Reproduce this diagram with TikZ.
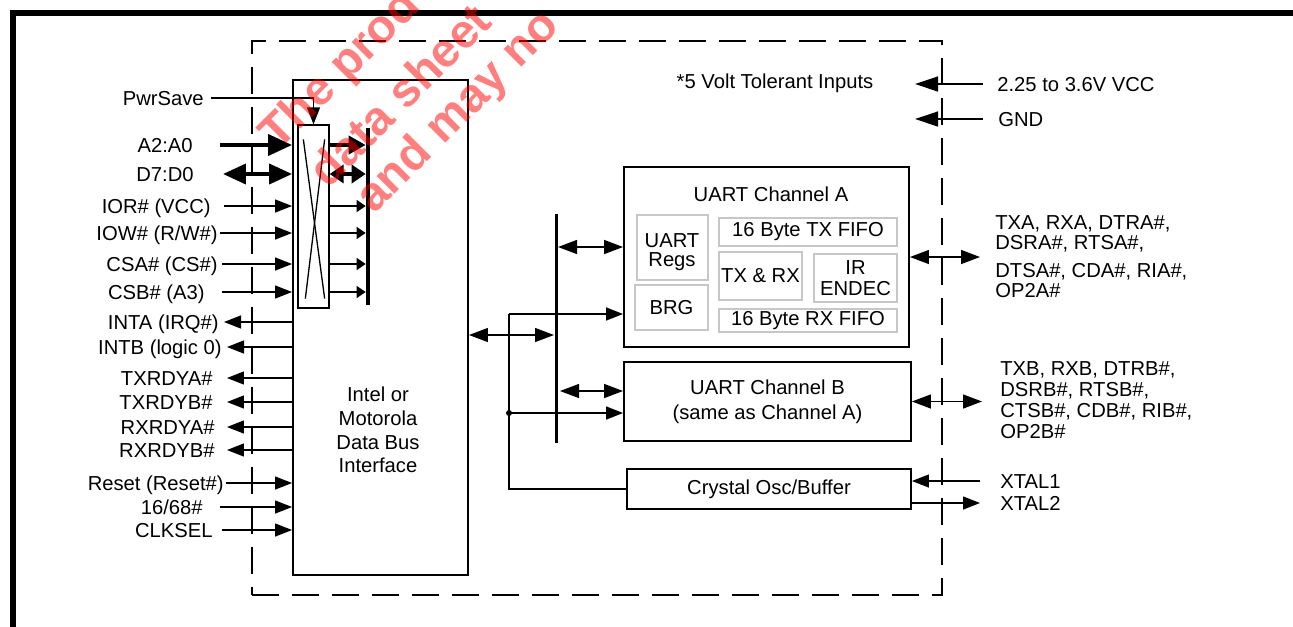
\documentclass[tikz,border=0pt]{standalone}
\usepackage{fontspec}
\setmainfont{Liberation Sans}
\usetikzlibrary{arrows.meta, calc}
\newcommand{\dfont}{\fontsize{11.5}{12}\selectfont}
\tikzset{
  wire/.style={line width=0.75pt},
  sigarrow/.style={wire, -{Triangle[length=0.34cm, width=0.26cm]}},
  sigboth/.style={wire, {Triangle[length=0.38cm, width=0.28cm]}-{Triangle[length=0.38cm, width=0.28cm]}},
  stubarrow/.style={wire, -{Triangle[length=0.18cm, width=0.24cm]}},
  pwrarrow/.style={wire, -{Triangle[length=0.46cm, width=0.30cm]}},
  busarrow/.style={line width=2.2pt, -{Triangle[length=0.48cm, width=0.42cm]}},
  busboth/.style={line width=2.2pt, {Triangle[length=0.46cm, width=0.40cm]}-{Triangle[length=0.46cm, width=0.40cm]}},
  stubbus/.style={line width=2.2pt, -{Triangle[length=0.34cm, width=0.36cm]}},
  stubbusboth/.style={line width=2.2pt, {Triangle[length=0.28cm, width=0.36cm]}-{Triangle[length=0.28cm, width=0.36cm]}},
  chipbox/.style={rectangle, draw, wire, dash pattern=on 0.54cm off 0.26cm, inner sep=0pt},
  blockbox/.style={rectangle, draw, line width=1.1pt, inner sep=0pt, font=\dfont, align=center},
  subbox/.style={rectangle, draw=black!22, line width=1.1pt, inner sep=0pt, font=\dfont, align=center},
  muxbox/.style={rectangle, draw, wire, inner sep=0pt},
  busbar/.style={rectangle, fill=black, inner sep=0pt},
  lbl/.style={font=\dfont, inner sep=0pt},
  sigtext/.style={lbl, text height=8.9pt, text depth=0.7pt},
  wmark/.style={font=\fontsize{27}{27}\selectfont\bfseries, text=red, text opacity=0.5,
    inner sep=0pt, anchor=base west, rotate=45},
}

\begin{document}
\begin{tikzpicture}[x=0.02cm, y=-0.02cm]
\useasboundingbox (0,0) rectangle (1293,626);

%% FRAME
\draw[line width=0.12cm] (13,640) -- (13,13) -- (1310,13);

%% CHIP OUTLINE
\node[chipbox, minimum width=13.8cm, minimum height=11.08cm] (chip) at (597,318) {};

%% BUS INTERFACE
\node[blockbox, minimum width=3.5cm, minimum height=9.9cm] (iface) at (380.5,327.5) {};
\node[lbl, align=center, font=\fontsize{11.5}{13.4}\selectfont] (ifacelbl) at (378,430)
  {Intel or\\Motorola\\Data Bus\\Interface};

\node[muxbox, minimum width=0.62cm, minimum height=3.66cm] (mux) at (313.5,216.5) {};
\draw[wire] ($(mux.north west)+(6,15)$) -- ($(mux.south east)+(-5,-10)$);
\draw[wire] ($(mux.north east)+(-5,15)$) -- ($(mux.south west)+(8,-10)$);
\node[busbar, minimum width=0.08cm, minimum height=3.54cm] (mbar) at (368,216.5) {};

%% LEFT SIGNALS
\node[sigtext, anchor=east] (lPwr)  at (204,98)  {PwrSave};
\node[sigtext, anchor=east] (lAdr)  at (193,145) {A2:A0};
\node[sigtext, anchor=east] (lDat)  at (194,174) {D7:D0};
\node[sigtext, anchor=east] (lIOR)  at (211,206) {IOR\# (VCC)};
\node[sigtext, anchor=east] (lIOW)  at (218,233) {IOW\# (R/W\#)};
\node[sigtext, anchor=east] (lCSA)  at (218,264) {CSA\# (CS\#)};
\node[sigtext, anchor=east] (lCSB)  at (205,292) {CSB\# (A3)};
\node[sigtext, anchor=east] (lINTA) at (219,322) {INTA (IRQ\#)};
\node[sigtext, anchor=east] (lINTB) at (222,347) {INTB (logic 0)};
\node[sigtext, anchor=east] (lTXA)  at (213,378) {TXRDYA\#};
\node[sigtext, anchor=east] (lTXB)  at (213,402) {TXRDYB\#};
\node[sigtext, anchor=east] (lRXA)  at (215,427) {RXRDYA\#};
\node[sigtext, anchor=east] (lRXB)  at (215,450) {RXRDYB\#};
\node[sigtext, anchor=east] (lRst)  at (224,483) {Reset (Reset\#)};
\node[sigtext, anchor=east] (l1668) at (203,507) {16/68\#};
\node[sigtext, anchor=east] (lClk)  at (213,530) {CLKSEL};

\draw[sigarrow, shorten <=0.14cm] (lPwr.east) -| (mux.north);
\draw[busarrow, shorten <=0.54cm] (lAdr.east) -- (lAdr.east -| iface.west);
\draw[busboth, shorten <=0.58cm]  (lDat.east) -- (lDat.east -| iface.west);
\draw[sigarrow, shorten <=0.26cm] (lIOR.east) -- (lIOR.east -| iface.west);
\draw[sigarrow, shorten <=0.04cm] (lIOW.east) -- (lIOW.east -| iface.west);
\draw[sigarrow, shorten <=0.08cm] (lCSA.east) -- (lCSA.east -| iface.west);
\draw[sigarrow, shorten <=0.34cm] (lCSB.east) -- (lCSB.east -| iface.west);
\draw[sigarrow, shorten >=0.10cm] (lINTA.east -| iface.west) -- (lINTA.east);
\draw[sigarrow, shorten >=0.10cm] (lINTB.east -| iface.west) -- (lINTB.east);
\draw[sigarrow, shorten >=0.28cm] (lTXA.east -| iface.west) -- (lTXA.east);
\draw[sigarrow, shorten >=0.28cm] (lTXB.east -| iface.west) -- (lTXB.east);
\draw[sigarrow, shorten >=0.24cm] (lRXA.east -| iface.west) -- (lRXA.east);
\draw[sigarrow, shorten >=0.24cm] (lRXB.east -| iface.west) -- (lRXB.east);
\draw[sigarrow, shorten <=0.04cm] (lRst.east)  -- (lRst.east -| iface.west);
\draw[sigarrow, shorten <=0.34cm] (l1668.east) -- (l1668.east -| iface.west);
\draw[sigarrow, shorten <=0.18cm] (lClk.east)  -- (lClk.east -| iface.west);

%% MUX TO INTERNAL BAR
\draw[stubbus]     (mux.east |- lAdr.east) -- (mbar.west |- lAdr.east);
\draw[stubbusboth] (mux.east |- lDat.east) -- (mbar.west |- lDat.east);
\draw[stubarrow]   (mux.east |- lIOR.east) -- (mbar.west |- lIOR.east);
\draw[stubarrow]   (mux.east |- lIOW.east) -- (mbar.west |- lIOW.east);
\draw[stubarrow]   (mux.east |- lCSA.east) -- (mbar.west |- lCSA.east);
\draw[stubarrow]   (mux.east |- lCSB.east) -- (mbar.west |- lCSB.east);

%% UART CHANNEL A
\node[blockbox, minimum width=5.7cm, minimum height=3.6cm] (chA) at (766.5,257) {};
\node[lbl] (chAtitle) at (771,194) {UART Channel A};
\node[subbox, minimum width=1.42cm, minimum height=1.3cm] (regs) at (672.5,247.5) {};
\node[lbl, align=center, font=\fontsize{11.5}{10.8}\selectfont] (regslbl) at (672,252) {UART\\Regs};
\node[subbox, minimum width=1.46cm, minimum height=0.9cm] (brg) at (671.5,307.5) {BRG};
\node[subbox, minimum width=3.56cm, minimum height=0.56cm] (txfifo) at (808,232) {16 Byte TX FIFO};
\node[subbox, minimum width=1.66cm, minimum height=0.96cm] (txrx) at (760.5,276) {TX \& RX};
\node[subbox, minimum width=1.66cm, minimum height=0.96cm, font=\fontsize{11.5}{11.9}\selectfont]
  (irendec) at (855.5,278) {IR\\ENDEC};
\node[subbox, minimum width=3.56cm, minimum height=0.46cm] (rxfifo) at (808,320.5) {16 Byte RX FIFO};

%% UART CHANNEL B AND OSCILLATOR
\node[blockbox, minimum width=5.74cm, minimum height=1.58cm, font=\fontsize{11.5}{14.2}\selectfont]
  (chB) at (767.5,401.5) {UART Channel B\\(same as Channel A)};
\node[blockbox, minimum width=5.68cm, minimum height=0.8cm] (xtal) at (769,489) {Crystal Osc/Buffer};

%% INTERNAL BUS
\node[busbar, minimum width=0.06cm, minimum height=4.58cm] (ibus) at (556,328.5) {};
\coordinate (tapIn) at (554,335);
\coordinate (tapA) at (558,247);
\coordinate (tapB) at (560,391);
\coordinate (clkA) at (509,314);
\coordinate (clkB) at (509,413);
\draw[sigboth] (tapIn -| iface.east) -- (tapIn);
\draw[sigboth] (tapA) -- (tapA -| chA.west);
\draw[sigboth] (tapB) -- (tapB -| chB.west);
\draw[wire] (xtal.west) -| (clkA);
\draw[sigarrow] (clkA) -- (clkA -| chA.west);
\draw[sigarrow] (clkB) -- (clkB -| chB.west);
\fill (clkB) circle[radius=1.7pt];

%% POWER
\node[lbl] (tol) at (775,83) {*5 Volt Tolerant Inputs};
\node[sigtext, anchor=west] (lVcc) at (997,84)  {2.25 to 3.6V VCC};
\node[sigtext, anchor=west] (lGnd) at (998,119) {GND};
\coordinate (vccin) at (915,84);
\coordinate (gndin) at (915,119);
\draw[pwrarrow, shorten <=0.28cm] (lVcc.west) -- (vccin);
\draw[pwrarrow, shorten <=0.30cm] (lGnd.west) -- (gndin);

%% SERIAL PORTS
\node[lbl, anchor=north west, align=left, font=\fontsize{11.5}{11.5}\selectfont] (sigA) at (995,215)
  {TXA, RXA, DTRA\#,\\DSRA\#, RTSA\#,\\[4.3pt]DTSA\#, CDA\#, RIA\#,\\OP2A\#};
\node[lbl, anchor=north west, align=left] (sigB) at (1000,361)
  {TXB, RXB, DTRB\#,\\DSRB\#, RTSB\#,\\CTSB\#, CDB\#, RIB\#,\\OP2B\#};
\draw[sigboth, shorten >=0.30cm] (chA.east) -- (chA.east -| sigA.west);
\draw[sigboth, shorten >=0.36cm] (chB.east) -- (chB.east -| sigB.west);

\node[sigtext, anchor=west] (lX1) at (1000,481) {XTAL1};
\node[sigtext, anchor=west] (lX2) at (1000,503) {XTAL2};
\draw[sigarrow, shorten <=0.40cm] (lX1.west) -- (lX1.west -| xtal.east);
\draw[sigarrow, shorten >=0.40cm] (lX2.west -| xtal.east) -- (lX2.west);

%% WATERMARK
\node[wmark] (wm1) at (278,152) {The prod};
\node[wmark] (wm2) at (328,190) {data sheet};
\node[wmark] (wm3) at (374,215) {and may no};

\end{tikzpicture}
\end{document}
